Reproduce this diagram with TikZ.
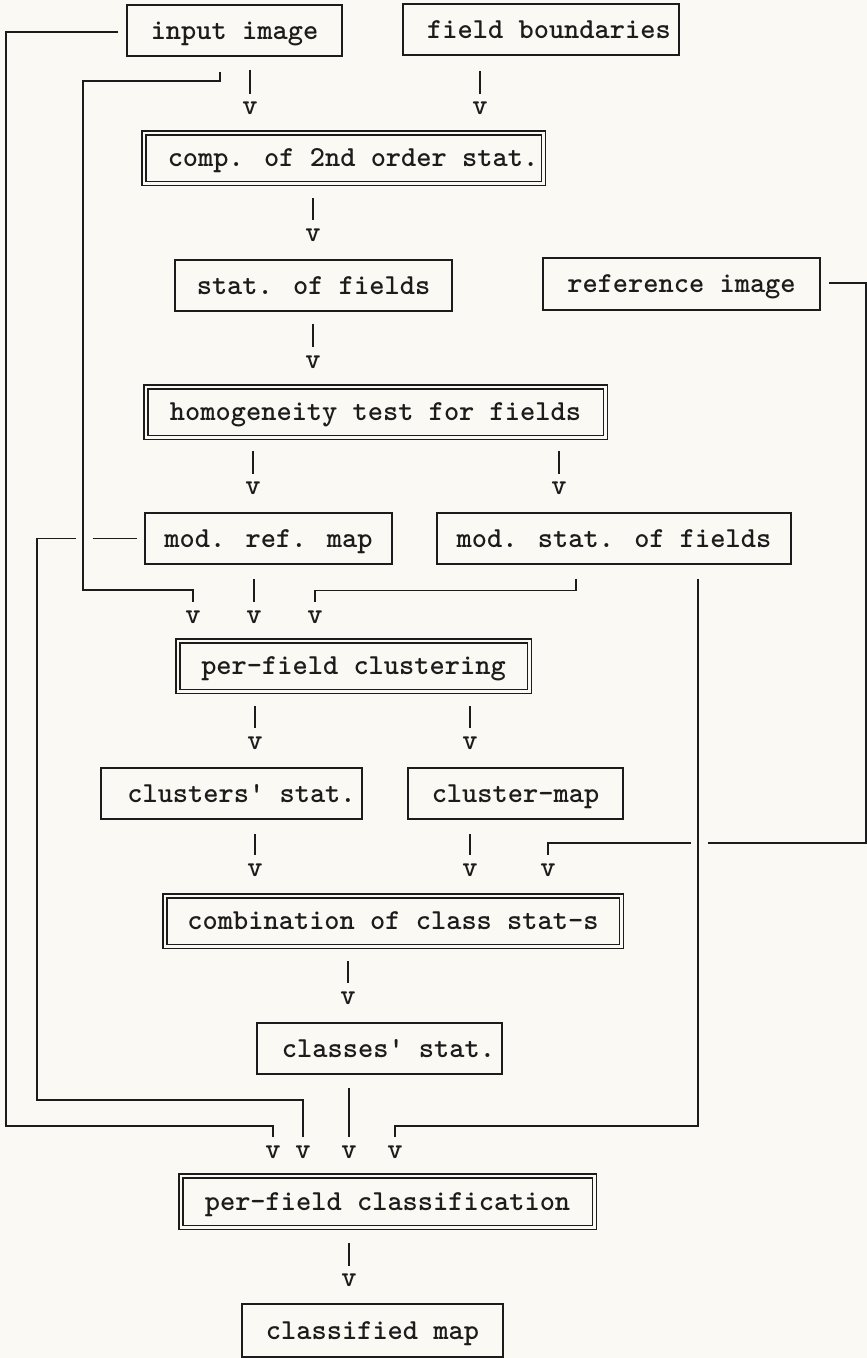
\documentclass[tikz,border=0pt]{standalone}
\usetikzlibrary{calc}
\definecolor{paper}{RGB}{250,249,243}
\definecolor{ink}{RGB}{28,28,28}
\begin{document}
\begin{tikzpicture}[x=1pt,y=-1pt,
  every node/.style={font=\fontsize{29}{30}\selectfont\ttfamily\bfseries, text=ink},
  box/.style={draw=ink, line width=1.8pt, inner sep=0pt, text height=17.6pt, text depth=0pt},
  dbox/.style={draw=ink, double=paper, line width=1.5pt, double distance=2.5pt,
               inner sep=0pt, text height=17.6pt, text depth=0pt},
  vmark/.style={inner sep=0pt},
  wire/.style={draw=ink, line width=1.8pt}]
\useasboundingbox (0,0) rectangle (867,1358);
\fill[paper] (0,0) rectangle (867,1358);

% process boxes
\node[box, minimum width=215pt, minimum height=51pt] (inimg) at (234.5,30.5) {input image};
\node[box, minimum width=276pt, minimum height=51pt] (fbound) at (541,29.5) {\kern16pt field boundaries};
\node[dbox, minimum width=399.5pt, minimum height=50.5pt] (comp) at (343.5,158) {\kern19pt comp. of 2nd order stat.};
\node[box, minimum width=277pt, minimum height=51pt] (statf) at (313.5,285.5) {stat. of fields};
\node[box, minimum width=277pt, minimum height=52pt] (refimg) at (681.5,284) {reference image};
\node[dbox, minimum width=459.5pt, minimum height=50.5pt] (homog) at (375.5,412) {homogeneity test for fields};
\node[box, minimum width=247pt, minimum height=51pt] (modref) at (268.5,538.5) {mod. ref. map};
\node[box, minimum width=354pt, minimum height=51pt] (modstat) at (614,538.5) {mod. stat. of fields};
\node[dbox, minimum width=351.5pt, minimum height=50.5pt] (pfclust) at (353.5,666) {per-field clustering};
\node[box, minimum width=261pt, minimum height=51pt] (clstat) at (231.5,793.5) {\kern20pt clusters' stat.};
\node[box, minimum width=215pt, minimum height=51pt] (clmap) at (515.5,793.5) {cluster-map};
\node[dbox, minimum width=456.5pt, minimum height=50.5pt] (comb) at (393,921) {combination of class stat-s};
\node[box, minimum width=245pt, minimum height=51pt] (classst) at (379.5,1048.5) {\kern18pt classes' stat.};
\node[dbox, minimum width=413.5pt, minimum height=51.5pt] (pfclass) at (387.5,1201.5) {per-field classification};
\node[box, minimum width=261pt, minimum height=53pt] (clsmap) at (372.5,1330.5) {classified map};

% typed arrow heads
\node[vmark] (va) at (250,108) {v};
\node[vmark] (vb) at (480,108) {v};
\node[vmark] (vc) at (313,235) {v};
\node[vmark] (vd) at (313,362) {v};
\node[vmark] (ve) at (253,488) {v};
\node[vmark] (vf) at (559,488) {v};
\node[vmark] (vg) at (193,617) {v};
\node[vmark] (vh) at (254,617) {v};
\node[vmark] (vi) at (315,617) {v};
\node[vmark] (vj) at (255,743) {v};
\node[vmark] (vk) at (470,743) {v};
\node[vmark] (vl) at (255,870) {v};
\node[vmark] (vm) at (470,870) {v};
\node[vmark] (vn) at (548,870) {v};
\node[vmark] (vo) at (348,998) {v};
\node[vmark] (vp) at (273,1152) {v};
\node[vmark] (vq) at (303,1152) {v};
\node[vmark] (vr) at (349,1152) {v};
\node[vmark] (vs) at (395,1152) {v};
\node[vmark] (vt) at (349,1280) {v};

% corners of the long return lines
\coordinate (xa) at (6,1126);
\coordinate (xb) at (83,81);
\coordinate (xb2) at (83,590);
\coordinate (xd) at (866,843);
\coordinate (xe) at (698,1126);
\coordinate (xf) at (37,1100);

% straight down links
\draw[wire] ($(inimg.south -| va)+(0,13)$) -- ($(va.north)+(0,-7)$);
\draw[wire] ($(fbound.south -| vb)+(0,15)$) -- ($(vb.north)+(0,-7)$);
\draw[wire] ($(comp.south -| vc)+(0,14)$) -- ($(vc.north)+(0,-8)$);
\draw[wire] ($(statf.south -| vd)+(0,12)$) -- ($(vd.north)+(0,-8)$);
\draw[wire] ($(homog.south -| ve)+(0,13)$) -- ($(ve.north)+(0,-7)$);
\draw[wire] ($(homog.south -| vf)+(0,13)$) -- ($(vf.north)+(0,-7)$);
\draw[wire] ($(modref.south -| vh)+(0,14)$) -- ($(vh.north)+(0,-8)$);
\draw[wire] ($(pfclust.south -| vj)+(0,14)$) -- ($(vj.north)+(0,-8)$);
\draw[wire] ($(pfclust.south -| vk)+(0,14)$) -- ($(vk.north)+(0,-8)$);
\draw[wire] ($(clstat.south -| vl)+(0,14)$) -- ($(vl.north)+(0,-8)$);
\draw[wire] ($(clmap.south -| vm)+(0,14)$) -- ($(vm.north)+(0,-8)$);
\draw[wire] ($(comb.south -| vo)+(0,14)$) -- ($(vo.north)+(0,-8)$);
\draw[wire] ($(classst.south -| vr)+(0,13)$) -- ($(vr.north)+(0,-8)$);
\draw[wire] ($(pfclass.south -| vt)+(0,15)$) -- ($(vt.north)+(0,-7)$);

% input image, outer return line to the classification
\draw[wire] ($(inimg.west)+(-8,1.5)$) -| (xa) -| ($(vp.north)+(0,-8)$);
% input image, inner line to the clustering
\draw[wire] ($(inimg.south)+(-14.5,15)$) |- (xb) -- (xb2) -| ($(vg.north)+(0,-8)$);
% reference image to the combination, broken where it crosses
\draw[wire] ($(refimg.east)+(8,-1)$) -| (xd) -- ($(xd -| xe)+(10,0)$)
            ($(xd -| xe)+(-7,0)$) -| ($(vn.north)+(0,-8)$);
% modified statistics to the clustering and the classification
\draw[wire] ($(modstat.south)+(-38,14)$) |- ($(vi.north)+(0,-20)$) -- ($(vi.north)+(0,-8)$);
\draw[wire] ($(modstat.south -| xe)+(0,14)$) -- (xe) -| ($(vs.north)+(0,-8)$);
% modified reference map to the classification, broken where it crosses
\draw[wire] ($(modref.west)+(-7,0)$) -- ($(modref.west -| xb)+(10,0)$)
            ($(modref.west -| xb)+(-7,0)$) -| (xf) -| ($(vq.north)+(0,-8)$);
\end{tikzpicture}
\end{document}
